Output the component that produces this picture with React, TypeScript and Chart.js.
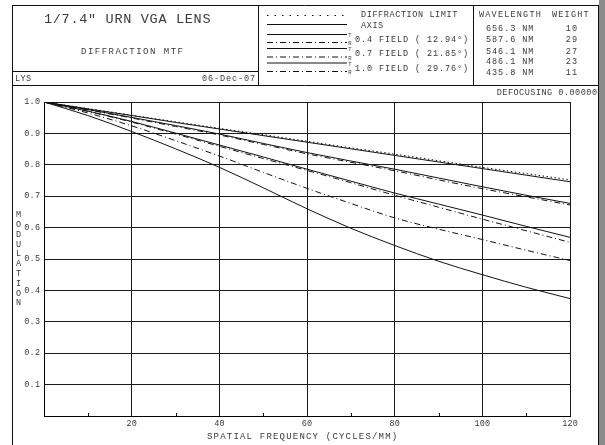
import React, { useEffect, useRef } from "react";
import { Chart, registerables } from "chart.js";

Chart.register(...registerables);

// Spatial frequency samples (cycles/mm)
const frequencies = [0, 10, 20, 30, 40, 50, 60, 70, 80, 90, 100, 110, 120];

// MTF values per curve
const diffractionLimit = [1, 0.979, 0.958, 0.937, 0.916, 0.896, 0.875, 0.854, 0.834, 0.813, 0.792, 0.772, 0.752];
const axisMtf = [1, 0.978, 0.957, 0.935, 0.914, 0.893, 0.872, 0.851, 0.830, 0.809, 0.788, 0.767, 0.746];
const field04T = [1, 0.976, 0.951, 0.925, 0.898, 0.868, 0.839, 0.812, 0.786, 0.758, 0.730, 0.703, 0.677];
const field04R = [1, 0.975, 0.949, 0.922, 0.895, 0.865, 0.835, 0.808, 0.781, 0.752, 0.724, 0.698, 0.672];
const field07T = [1, 0.971, 0.938, 0.901, 0.863, 0.825, 0.786, 0.748, 0.710, 0.675, 0.640, 0.604, 0.569];
const field07R = [1, 0.970, 0.936, 0.898, 0.859, 0.820, 0.782, 0.743, 0.703, 0.665, 0.627, 0.590, 0.553];
const field10T = [1, 0.957, 0.906, 0.851, 0.792, 0.727, 0.660, 0.598, 0.543, 0.493, 0.450, 0.410, 0.374];
const field10R = [1, 0.965, 0.924, 0.877, 0.828, 0.776, 0.725, 0.677, 0.631, 0.595, 0.562, 0.528, 0.495];

// Axis ticks
const xTickValues = [20, 40, 60, 80, 100, 120];
const xMinorTicks = [10, 30, 50, 70, 90, 110];
const yTickValues = [0.1, 0.2, 0.3, 0.4, 0.5, 0.6, 0.7, 0.8, 0.9, 1.0];

// Header text
const lensTitle = '1/7.4" URN VGA LENS';
const plotType = "DIFFRACTION MTF";
const author = "LYS";
const plotDate = "06-Dec-07";
const fieldLabels = ["0.4 FIELD ( 12.94\u00b0)", "0.7 FIELD ( 21.85\u00b0)", "1.0 FIELD ( 29.76\u00b0)"];
const wavelengths = ["656.3 NM", "587.6 NM", "546.1 NM", "486.1 NM", "435.8 NM"];
const weights = ["10", "29", "27", "23", "11"];
const defocusLabel = "DEFOCUSING 0.00000";
const yTitle = "MODULATION";
const xTitle = "SPATIAL FREQUENCY (CYCLES/MM)";

const DOTTED = [1.5, 2.5];
const DASH_DOT = [6, 3, 1, 3];
const INK = "#111";
const TEXT = "#3a3a3a";
const FONT = '"Liberation Mono", monospace';

function drawText(
  ctx: CanvasRenderingContext2D,
  str: string,
  x: number,
  y: number,
  size: number,
  pitch: number,
  align: "left" | "right" | "center" = "left"
) {
  ctx.save();
  ctx.font = `${size}px ${FONT}`;
  const spacing = pitch - size * 0.6;
  (ctx as any).letterSpacing = `${spacing}px`;
  ctx.fillStyle = TEXT;
  ctx.textBaseline = "middle";
  ctx.textAlign = "left";
  const w = str.length * pitch - spacing;
  let left = x;
  if (align === "right") left = x - w;
  else if (align === "center") left = x - w / 2;
  ctx.fillText(str, left, y);
  ctx.restore();
}

function hLine(ctx: CanvasRenderingContext2D, x1: number, x2: number, y: number, dash: number[] = []) {
  ctx.save();
  ctx.strokeStyle = INK;
  ctx.lineWidth = 1;
  ctx.setLineDash(dash);
  ctx.beginPath();
  ctx.moveTo(x1, y + 0.5);
  ctx.lineTo(x2, y + 0.5);
  ctx.stroke();
  ctx.restore();
}

function vLine(ctx: CanvasRenderingContext2D, x: number, y1: number, y2: number) {
  ctx.save();
  ctx.strokeStyle = INK;
  ctx.lineWidth = 1;
  ctx.beginPath();
  ctx.moveTo(x + 0.5, y1);
  ctx.lineTo(x + 0.5, y2);
  ctx.stroke();
  ctx.restore();
}

const sheetPlugin = {
  id: "mtfSheet",
  afterDraw(chart: any) {
    const ctx: CanvasRenderingContext2D = chart.ctx;
    const xs = chart.scales.x;
    const ys = chart.scales.y;
    const area = chart.chartArea;

    // Page frame
    ctx.save();
    ctx.fillStyle = "#8a8a8a";
    ctx.fillRect(599, 0, 6, 445);
    ctx.restore();
    hLine(ctx, 12, 599, 5);
    vLine(ctx, 12, 5, 445);
    vLine(ctx, 598, 5, 445);

    // Header boxes
    vLine(ctx, 258, 5, 86);
    vLine(ctx, 473, 5, 86);
    hLine(ctx, 12, 258, 71);
    hLine(ctx, 12, 599, 85);

    drawText(ctx, lensTitle, 44, 19.5, 13.5, 8.8);
    drawText(ctx, plotType, 81, 52, 9, 6.9);
    drawText(ctx, author, 15, 79, 8.5, 5.5);
    drawText(ctx, plotDate, 255, 79, 8.5, 6.0, "right");

    // Legend
    const lx1 = 267;
    const lx2 = 347;
    hLine(ctx, lx1, lx2, 15, [1.5, 6]);
    hLine(ctx, lx1, lx2, 24);
    drawText(ctx, "DIFFRACTION LIMIT", 361, 15, 8.5, 5.7);
    drawText(ctx, "AXIS", 361, 26, 8.5, 5.7);
    const tRows = [34, 48, 62.5];
    const rRows = [42, 56.5, 71];
    fieldLabels.forEach((label, i) => {
      hLine(ctx, lx1, lx2, tRows[i]);
      hLine(ctx, lx1, lx2, rRows[i], DASH_DOT);
      drawText(ctx, "T", 350, tRows[i] + 2, 5.5, 3.5, "center");
      drawText(ctx, "R", 350, rRows[i] + 2, 5.5, 3.5, "center");
      drawText(ctx, label, 355, (tRows[i] + rRows[i]) / 2 + 1.5, 8.5, 6.0);
    });

    // Wavelength table
    drawText(ctx, "WAVELENGTH", 479, 15, 8.5, 6.3);
    drawText(ctx, "WEIGHT", 552, 15, 8.5, 6.3);
    const wRows = [28.3, 40, 51.5, 62, 73];
    wavelengths.forEach((w, i) => {
      drawText(ctx, w, 486, wRows[i], 8.5, 6.05);
      drawText(ctx, weights[i], 577, wRows[i], 8.5, 6.05, "right");
    });

    drawText(ctx, defocusLabel, 597, 93, 8.5, 5.6, "right");

    // Minor ticks on the frequency axis
    ctx.save();
    ctx.strokeStyle = INK;
    ctx.lineWidth = 1;
    xMinorTicks.forEach((v) => {
      const px = Math.round(xs.getPixelForValue(v)) + 0.5;
      ctx.beginPath();
      ctx.moveTo(px, area.bottom);
      ctx.lineTo(px, area.bottom - 3);
      ctx.stroke();
    });
    ctx.restore();

    // Tick labels
    yTickValues.forEach((v) => {
      drawText(ctx, v.toFixed(1), area.left - 4, ys.getPixelForValue(v), 8.5, 5.3, "right");
    });
    xTickValues.forEach((v) => {
      drawText(ctx, String(v), xs.getPixelForValue(v), area.bottom + 8, 8.5, 5.3, "center");
    });

    // Axis titles
    yTitle.split("").forEach((ch, i) => {
      drawText(ctx, ch, 18.5, 215 + i * 9.8, 8.5, 5.3, "center");
    });
    drawText(ctx, xTitle, 207, 437, 9, 6.6);
  },
};

function series(values: number[], dash: number[]) {
  return {
    data: frequencies.map((f, i) => ({ x: f, y: values[i] })),
    borderColor: INK,
    borderWidth: 1,
    borderDash: dash,
    pointRadius: 0,
    fill: false,
    cubicInterpolationMode: "monotone" as const,
  };
}

export default function App() {
  const canvasRef = useRef<HTMLCanvasElement | null>(null);

  useEffect(() => {
    const canvas = canvasRef.current;
    if (!canvas) return;
    const chart = new Chart(canvas, {
      type: "line",
      data: {
        datasets: [
          series(diffractionLimit, DOTTED),
          series(axisMtf, []),
          series(field04T, []),
          series(field04R, DASH_DOT),
          series(field07T, []),
          series(field07R, DASH_DOT),
          series(field10T, []),
          series(field10R, DASH_DOT),
        ],
      },
      options: {
        responsive: false,
        animation: false,
        devicePixelRatio: 1,
        layout: { padding: { left: 0, right: 35, top: 102, bottom: 0 } },
        plugins: { legend: { display: false }, tooltip: { enabled: false } },
        scales: {
          x: {
            type: "linear",
            min: 0,
            max: 120,
            ticks: { stepSize: 20, display: false },
            grid: { color: "#1a1a1a", lineWidth: 1, drawTicks: false },
            border: { color: "#000", width: 1 },
            afterFit: (s: any) => {
              s.height = 29;
            },
          },
          y: {
            type: "linear",
            min: 0,
            max: 1,
            ticks: { stepSize: 0.1, display: false },
            grid: { color: "#1a1a1a", lineWidth: 1, drawTicks: false },
            border: { color: "#000", width: 1 },
            afterFit: (s: any) => {
              s.width = 44;
            },
          },
        },
      },
      plugins: [sheetPlugin],
    });
    return () => chart.destroy();
  }, []);

  return (
    <div style={{ position: "absolute", left: 0, top: 0, width: 605, height: 445, background: "#fff" }}>
      <canvas ref={canvasRef} width={605} height={445} style={{ display: "block" }} />
    </div>
  );
}
